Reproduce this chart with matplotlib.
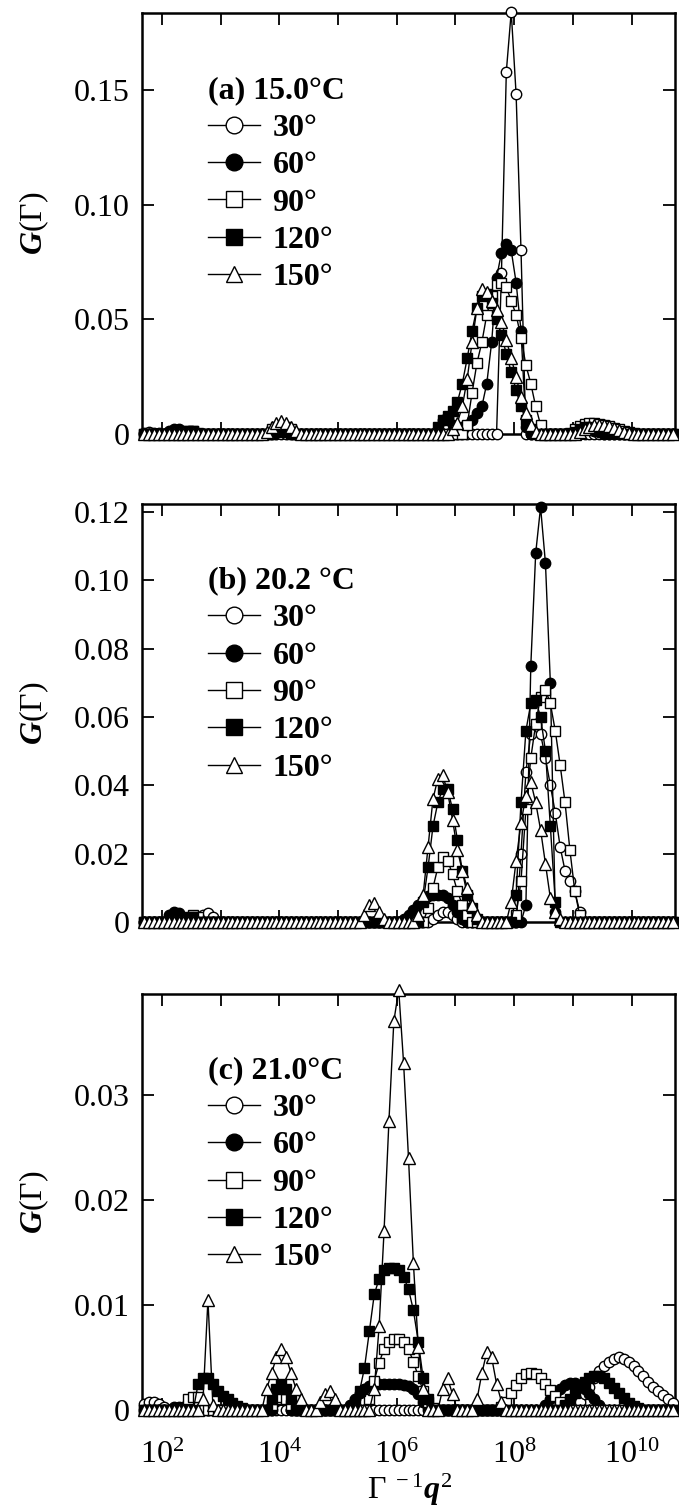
import numpy as np
import matplotlib
matplotlib.use("Agg")
import matplotlib.pyplot as plt
from matplotlib.ticker import FixedLocator, FuncFormatter, NullLocator
from matplotlib.lines import Line2D
from matplotlib.font_manager import FontProperties

plt.rcParams['font.family'] = 'Liberation Serif'
plt.rcParams['mathtext.fontset'] = 'custom'
plt.rcParams['mathtext.rm'] = 'Liberation Serif'
plt.rcParams['mathtext.it'] = 'Liberation Serif:italic:bold'
plt.rcParams['mathtext.bf'] = 'Liberation Serif:bold'

# Gamma^-1 q^2 grid (log spaced, 12 points per decade, 10^1.7 .. 10^10.7)
x = np.logspace(1.7, 10.7, 109)

angles = ["30°", "60°", "90°", "120°", "150°"]
titles = ["(a) 15.0°C", "(b) 20.2 °C", "(c) 21.0°C"]

# ---- (a) 15.0 C ----
a30 = [0.0006, 0.0008, 0.0006, 0.0003, 0, 0, 0, 0, 0, 0, 0, 0,
       0, 0, 0, 0, 0, 0, 0, 0, 0, 0, 0, 0,
       0, 0, 0, 0, 0, 0, 0, 0, 0, 0, 0, 0,
       0, 0, 0, 0, 0, 0, 0, 0, 0, 0, 0, 0,
       0, 0, 0, 0, 0, 0, 0, 0, 0, 0, 0, 0,
       0, 0, 0, 0, 0, 0, 0, 0, 0, 0, 0, 0,
       0, 0.07, 0.158, 0.184, 0.148, 0.08, 0, 0, 0, 0, 0, 0,
       0, 0, 0, 0, 0, 0, 0, 0, 0, 0, 0, 0,
       0, 0, 0, 0, 0, 0, 0, 0, 0, 0, 0, 0,
       0]
a60 = [0, 0, 0, 0, 0, 0.0012, 0.002, 0.002, 0.001, 0, 0, 0,
       0, 0, 0, 0, 0, 0, 0, 0, 0, 0, 0, 0,
       0, 0, 0.001, 0.0018, 0.002, 0.0015, 0.0008, 0, 0, 0, 0, 0,
       0, 0, 0, 0, 0, 0, 0, 0, 0, 0, 0, 0,
       0, 0, 0, 0, 0, 0, 0, 0, 0, 0, 0, 0,
       0.002, 0.006, 0.007, 0.004, 0.003, 0.003, 0.004, 0.006, 0.009, 0.012, 0.022, 0.040,
       0.068, 0.079, 0.083, 0.080, 0.066, 0.045, 0.003, 0, 0, 0, 0, 0,
       0, 0, 0, 0, 0.001, 0.0015, 0.002, 0.002, 0.0015, 0.001, 0, 0,
       0, 0, 0, 0, 0, 0, 0, 0, 0, 0, 0, 0,
       0]
a90 = [0, 0, 0, 0, 0, 0, 0, 0, 0, 0.0015, 0.0015, 0,
       0, 0, 0, 0, 0, 0, 0, 0, 0, 0, 0, 0,
       0, 0, 0.002, 0.003, 0.0035, 0.003, 0.002, 0, 0, 0, 0, 0,
       0, 0, 0, 0, 0, 0, 0, 0, 0, 0, 0, 0,
       0, 0, 0, 0, 0, 0, 0, 0, 0, 0, 0, 0,
       0, 0, 0, 0, 0, 0, 0.004, 0.018, 0.031, 0.040, 0.052, 0.060,
       0.065, 0.066, 0.064, 0.058, 0.052, 0.042, 0.030, 0.022, 0.012, 0.004, 0, 0,
       0, 0, 0, 0.0005, 0.002, 0.0035, 0.0045, 0.005, 0.005, 0.0045, 0.004, 0.0033,
       0.0026, 0.002, 0.0013, 0.0007, 0.0003, 0, 0, 0, 0, 0, 0, 0,
       0]
a120 = [0, 0, 0, 0, 0, 0, 0, 0, 0.0008, 0.0012, 0.0012, 0.0006,
        0, 0, 0, 0, 0, 0, 0, 0, 0, 0, 0, 0,
        0, 0, 0, 0.001, 0.0015, 0.001, 0, 0, 0, 0, 0, 0,
        0, 0, 0, 0, 0, 0, 0, 0, 0, 0, 0, 0,
        0, 0, 0, 0, 0, 0, 0, 0, 0, 0, 0, 0,
        0.003, 0.006, 0.008, 0.010, 0.014, 0.022, 0.033, 0.045, 0.055, 0.060, 0.061, 0.057,
        0.050, 0.043, 0.035, 0.027, 0.019, 0.012, 0.006, 0.002, 0, 0, 0, 0,
        0, 0, 0, 0, 0.001, 0.002, 0.003, 0.003, 0.0028, 0.0024, 0.002, 0.0015,
        0.001, 0.0005, 0, 0, 0, 0, 0, 0, 0, 0, 0, 0,
        0]
a150 = [0, 0, 0, 0, 0, 0, 0, 0, 0, 0, 0, 0,
        0, 0, 0, 0, 0, 0, 0, 0, 0, 0, 0, 0,
        0, 0.001, 0.003, 0.005, 0.0058, 0.005, 0.003, 0.0012, 0, 0, 0, 0,
        0, 0, 0, 0, 0, 0, 0, 0, 0, 0, 0, 0,
        0, 0, 0, 0, 0, 0, 0, 0, 0, 0, 0, 0,
        0, 0, 0, 0.002, 0.005, 0.012, 0.024, 0.040, 0.055, 0.063, 0.062, 0.058,
        0.054, 0.049, 0.041, 0.033, 0.025, 0.016, 0.009, 0.004, 0.001, 0, 0, 0,
        0, 0, 0, 0, 0, 0.001, 0.002, 0.003, 0.0038, 0.004, 0.0038, 0.0033,
        0.0025, 0.0017, 0.001, 0.0004, 0, 0, 0, 0, 0, 0, 0, 0,
        0]

# ---- (b) 20.2 C ----
b30 = [0, 0, 0, 0, 0, 0, 0, 0, 0, 0, 0, 0,
       0.002, 0.0025, 0.0015, 0, 0, 0, 0, 0, 0, 0, 0, 0,
       0, 0, 0, 0, 0, 0, 0, 0, 0, 0, 0, 0,
       0, 0, 0, 0, 0, 0, 0, 0, 0, 0, 0, 0,
       0, 0, 0, 0, 0, 0, 0, 0, 0, 0, 0, 0.001,
       0.002, 0.003, 0.003, 0.002, 0.001, 0, 0, 0, 0, 0, 0, 0,
       0, 0, 0, 0, 0, 0.02, 0.044, 0.055, 0.058, 0.055, 0.048, 0.040,
       0.032, 0.022, 0.015, 0.012, 0.009, 0.003, 0, 0, 0, 0, 0, 0,
       0, 0, 0, 0, 0, 0, 0, 0, 0, 0, 0, 0,
       0]
b60 = [0, 0, 0, 0, 0, 0.002, 0.003, 0.0025, 0.001, 0, 0, 0,
       0, 0, 0, 0, 0, 0, 0, 0, 0, 0, 0, 0,
       0, 0, 0, 0, 0, 0, 0, 0, 0, 0, 0, 0,
       0, 0, 0, 0, 0, 0, 0, 0, 0, 0, 0, 0,
       0, 0, 0, 0, 0, 0.001, 0.002, 0.0035, 0.005, 0.0065, 0.0075, 0.008,
       0.008, 0.0078, 0.007, 0.005, 0.003, 0.001, 0, 0, 0, 0, 0, 0,
       0, 0, 0, 0, 0, 0, 0.005, 0.075, 0.108, 0.1215, 0.105, 0.07,
       0.003, 0, 0, 0, 0, 0, 0, 0, 0, 0, 0, 0,
       0, 0, 0, 0, 0, 0, 0, 0, 0, 0, 0, 0,
       0]
b90 = [0, 0, 0, 0, 0, 0, 0, 0, 0, 0, 0.002, 0.0015,
       0, 0, 0, 0, 0, 0, 0, 0, 0, 0, 0, 0,
       0, 0, 0, 0, 0, 0, 0, 0, 0, 0, 0, 0,
       0, 0, 0, 0, 0, 0, 0, 0, 0, 0, 0, 0,
       0, 0, 0, 0, 0, 0, 0, 0, 0, 0, 0.004, 0.010,
       0.016, 0.019, 0.018, 0.014, 0.009, 0.005, 0.002, 0, 0, 0, 0, 0,
       0, 0, 0, 0, 0.002, 0.012, 0.033, 0.048, 0.058, 0.066, 0.068, 0.064,
       0.056, 0.046, 0.035, 0.021, 0.009, 0.002, 0, 0, 0, 0, 0, 0,
       0, 0, 0, 0, 0, 0, 0, 0, 0, 0, 0, 0,
       0]
b120 = [0, 0, 0, 0, 0, 0, 0, 0, 0, 0.0015, 0.0015, 0,
        0, 0, 0, 0, 0, 0, 0, 0, 0, 0, 0, 0,
        0, 0, 0, 0, 0, 0, 0, 0, 0, 0, 0, 0,
        0, 0, 0, 0, 0, 0, 0, 0, 0, 0, 0, 0,
        0, 0, 0, 0, 0, 0, 0, 0, 0, 0.006, 0.016, 0.028,
        0.035, 0.039, 0.039, 0.033, 0.024, 0.015, 0.008, 0.004, 0.001, 0, 0, 0,
        0, 0, 0, 0, 0.008, 0.035, 0.056, 0.064, 0.065, 0.060, 0.050, 0.028,
        0.006, 0, 0, 0, 0, 0, 0, 0, 0, 0, 0, 0,
        0, 0, 0, 0, 0, 0, 0, 0, 0, 0, 0, 0,
        0]
b150 = [0, 0, 0, 0, 0, 0, 0, 0, 0, 0, 0, 0,
        0, 0, 0, 0, 0, 0, 0, 0, 0, 0, 0, 0,
        0, 0, 0, 0, 0, 0, 0, 0, 0, 0, 0, 0,
        0, 0, 0, 0, 0, 0, 0, 0, 0, 0.002, 0.005, 0.0055,
        0.003, 0.001, 0, 0, 0, 0, 0, 0, 0.002, 0.008, 0.022, 0.036,
        0.042, 0.043, 0.038, 0.030, 0.021, 0.015, 0.010, 0.005, 0.002, 0, 0, 0,
        0, 0, 0, 0.006, 0.018, 0.029, 0.037, 0.041, 0.035, 0.027, 0.017, 0.007,
        0.003, 0.001, 0, 0, 0, 0, 0, 0, 0, 0, 0, 0,
        0, 0, 0, 0, 0, 0, 0, 0, 0, 0, 0, 0,
        0]

# ---- (c) 21.0 C ----
c30 = [0.0006, 0.0008, 0.0008, 0.0006, 0.0003, 0, 0, 0, 0, 0, 0, 0,
       0, 0, 0, 0, 0, 0, 0, 0, 0, 0, 0, 0,
       0, 0, 0, 0, 0, 0, 0, 0, 0, 0, 0, 0,
       0, 0, 0, 0, 0, 0, 0, 0, 0, 0, 0, 0,
       0, 0, 0, 0, 0, 0, 0, 0, 0, 0, 0, 0,
       0, 0, 0, 0, 0, 0, 0, 0, 0, 0, 0, 0,
       0, 0, 0, 0, 0, 0, 0, 0, 0, 0, 0, 0,
       0, 0, 0, 0, 0.0003, 0.0008, 0.0015, 0.0022, 0.003, 0.0037, 0.0042, 0.0046,
       0.0049, 0.005, 0.0049, 0.0046, 0.0042, 0.0037, 0.0032, 0.0027, 0.0022, 0.0018, 0.0014, 0.001,
       0.0007]
c60 = [0, 0, 0, 0, 0, 0, 0.0003, 0.0003, 0.0003, 0, 0, 0,
       0, 0, 0, 0, 0, 0, 0, 0, 0, 0, 0, 0,
       0, 0, 0, 0.0015, 0.002, 0.0015, 0, 0, 0, 0, 0, 0,
       0, 0, 0, 0, 0, 0, 0.0005, 0.001, 0.0016, 0.002, 0.0023, 0.0024,
       0.0025, 0.0025, 0.0025, 0.0025, 0.0025, 0.0024, 0.0023, 0.002, 0.0015, 0.0008, 0.0003, 0,
       0, 0, 0, 0, 0, 0, 0, 0, 0, 0, 0, 0,
       0, 0, 0, 0, 0, 0, 0, 0, 0, 0, 0.0005, 0.001,
       0.0015, 0.002, 0.0024, 0.0026, 0.0026, 0.0024, 0.002, 0.0015, 0.001, 0.0005, 0, 0,
       0, 0, 0, 0, 0, 0, 0, 0, 0, 0, 0, 0,
       0]
c90 = [0, 0, 0, 0, 0, 0, 0, 0, 0, 0.001, 0.0012, 0.0012,
       0, 0, 0, 0, 0, 0, 0, 0, 0, 0, 0, 0,
       0, 0, 0.0005, 0.001, 0.0012, 0.001, 0.0005, 0, 0, 0, 0, 0,
       0, 0, 0, 0, 0, 0, 0, 0, 0, 0, 0.001, 0.0028,
       0.0045, 0.0058, 0.0065, 0.0068, 0.0068, 0.0065, 0.0058, 0.0046, 0.0032, 0.0018, 0.0008, 0.0002,
       0, 0, 0, 0, 0, 0, 0, 0, 0, 0, 0, 0,
       0, 0.0003, 0.0008, 0.0016, 0.0024, 0.003, 0.0034, 0.0035, 0.0034, 0.003, 0.0025, 0.0019,
       0.0013, 0.0008, 0.0004, 0, 0, 0, 0, 0, 0, 0, 0, 0,
       0, 0, 0, 0, 0, 0, 0, 0, 0, 0, 0, 0,
       0]
c120 = [0, 0, 0, 0, 0, 0, 0, 0, 0, 0, 0, 0.0025,
        0.003, 0.003, 0.0025, 0.0018, 0.0013, 0.001, 0.0007, 0.0004, 0.0002, 0, 0, 0,
        0, 0, 0.001, 0.002, 0.0025, 0.002, 0.001, 0, 0, 0, 0, 0,
        0, 0, 0, 0, 0, 0, 0, 0.0008, 0.0018, 0.004, 0.0075, 0.011,
        0.0125, 0.0133, 0.0135, 0.0135, 0.0133, 0.0127, 0.0115, 0.0095, 0.0065, 0.003, 0.001, 0,
        0, 0, 0, 0, 0, 0, 0, 0, 0, 0, 0, 0,
        0, 0, 0, 0, 0, 0, 0, 0, 0, 0, 0, 0,
        0, 0, 0.0005, 0.001, 0.0016, 0.0022, 0.0027, 0.003, 0.0032, 0.0032, 0.003, 0.0026,
        0.0021, 0.0016, 0.0011, 0.0007, 0.0004, 0.0002, 0, 0, 0, 0, 0, 0,
        0]
c150 = [0, 0, 0, 0, 0, 0, 0, 0, 0, 0, 0, 0,
        0.001, 0.0105, 0.0005, 0, 0, 0, 0, 0, 0, 0, 0, 0,
        0, 0.002, 0.0035, 0.005, 0.0058, 0.005, 0.0035, 0.002, 0.001, 0, 0, 0,
        0.0008, 0.0015, 0.0018, 0.001, 0, 0, 0, 0, 0, 0, 0, 0.002,
        0.008, 0.017, 0.0275, 0.037, 0.040, 0.033, 0.024, 0.014, 0.006, 0.002, 0, 0,
        0, 0.002, 0.003, 0.0015, 0, 0, 0, 0, 0.001, 0.0035, 0.0055, 0.005,
        0.0025, 0.0008, 0, 0, 0, 0, 0, 0, 0, 0, 0, 0,
        0, 0, 0, 0, 0, 0, 0, 0, 0, 0, 0, 0,
        0, 0, 0, 0, 0, 0, 0, 0, 0, 0, 0, 0,
        0]

panels = [[a30, a60, a90, a120, a150],
          [b30, b60, b90, b120, b150],
          [c30, c60, c90, c120, c150]]
ytops = [0.1835, 0.1224, 0.0396]
yticks = [[0, 0.05, 0.10, 0.15],
          [0, 0.02, 0.04, 0.06, 0.08, 0.10, 0.12],
          [0, 0.01, 0.02, 0.03]]

# marker style per angle: (marker, facecolor)
styles = [("o", "white"), ("o", "black"), ("s", "white"), ("s", "black"), ("^", "white")]

W, H = 679, 1506
fig = plt.figure(figsize=(W / 100, H / 100), dpi=100)

# axes boxes in pixels: (top, bottom)
boxes = [(13, 434), (504, 922), (994, 1410)]
left_px, right_px = 142, 675

leg_font = FontProperties(family='Liberation Serif', weight='bold', size=23)

def ytick_fmt(v, pos):
    if abs(v) < 1e-12:
        return "0"
    return "%.2f" % v

def xtick_fmt(v, pos):
    e = int(round(np.log10(v)))
    if e % 2 == 0:
        return r"$10^{%d}$" % e
    return ""

for k, (top, bot) in enumerate(boxes):
    ax = fig.add_axes([left_px / W, 1 - bot / H, (right_px - left_px) / W, (bot - top) / H])
    for j, yv in enumerate(panels[k]):
        m, fc = styles[j]
        ax.plot(x, yv, color="black", lw=1.0, marker=m, ms=7.5 if m != "^" else 8,
                mfc=fc, mec="black", mew=1.0, clip_on=False, zorder=3 + j)
    ax.set_xscale("log")
    ax.set_xlim(10 ** 1.66, 10 ** 10.74)
    ax.set_ylim(0, ytops[k])
    ax.xaxis.set_major_locator(FixedLocator([10.0 ** e for e in range(2, 11)]))
    ax.xaxis.set_minor_locator(NullLocator())
    ax.xaxis.set_major_formatter(FuncFormatter(xtick_fmt))
    ax.yaxis.set_major_locator(FixedLocator(yticks[k]))
    ax.yaxis.set_major_formatter(FuncFormatter(ytick_fmt))
    ax.tick_params(which="both", direction="in", top=True, right=True,
                   length=8.5, width=1.3, labelsize=23)
    ax.tick_params(axis="y", pad=9)
    ax.tick_params(axis="x", pad=22)
    if k < 2:
        ax.tick_params(axis="x", labelbottom=False)
    for s in ax.spines.values():
        s.set_linewidth(1.8)
    ax.set_ylabel(r"$G(\Gamma)$", fontsize=23)
    ax.yaxis.set_label_coords(-0.17, 0.5)

    handles = [Line2D([], [], color="black", lw=1.0, marker=m, ms=12, mfc=fc,
                      mec="black", mew=1.0) for m, fc in styles]
    leg = ax.legend(handles, angles, title=titles[k], loc="upper left",
                    bbox_to_anchor=(0.123, 0.85), frameon=False, prop=leg_font,
                    title_fontproperties=leg_font, alignment="left",
                    handlelength=1.63, handletextpad=0.4, labelspacing=0.25,
                    borderpad=0, borderaxespad=0, numpoints=1)
    leg._legend_box.sep = 6

fig.text(410 / W, 1 - 1490 / H, r"$\Gamma^{\ -1}q^2$", fontsize=23,
         ha="center", va="center")

fig.savefig("out.png", dpi=100)
